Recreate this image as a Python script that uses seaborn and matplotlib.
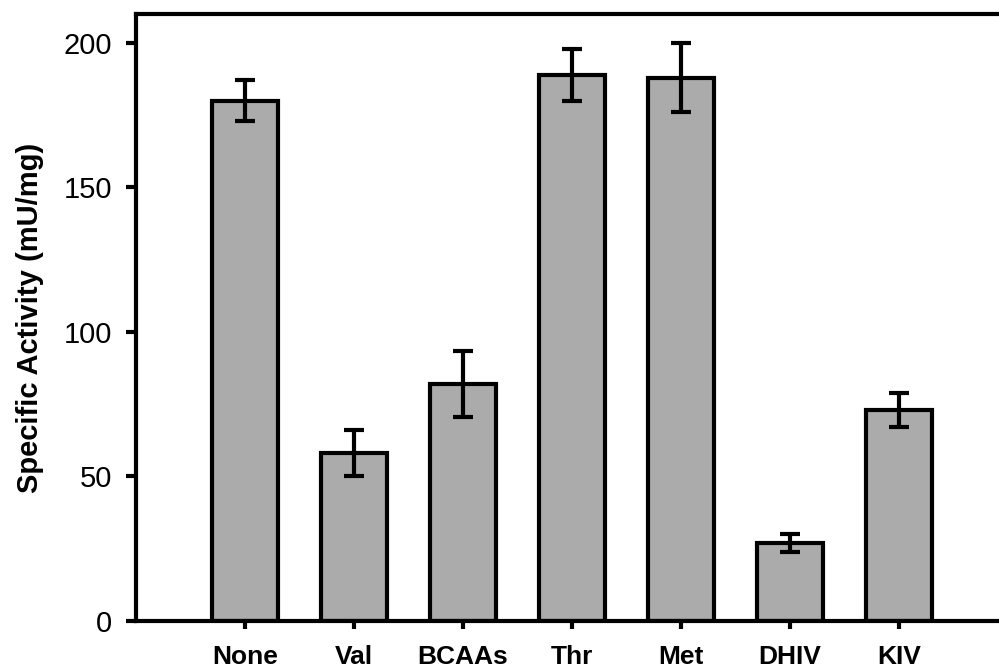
import matplotlib
matplotlib.use("Agg")
import matplotlib.pyplot as plt
import seaborn as sns
import pandas as pd

categories = ["None", "Val", "BCAAs", "Thr", "Met", "DHIV", "KIV"]
activity = [180, 58, 82, 189, 188, 27, 73]
errors = [7, 8, 11.5, 9, 12, 3, 6]
y_ticks = [0, 50, 100, 150, 200]

sns.set_theme(style="white")
plt.rcParams["font.family"] = ["Liberation Sans", "DejaVu Sans"]
plt.rcParams["text.color"] = "black"
plt.rcParams["axes.labelcolor"] = "black"
plt.rcParams["xtick.color"] = "black"
plt.rcParams["ytick.color"] = "black"

df = pd.DataFrame({"cond": categories, "act": activity})

fig = plt.figure(figsize=(9.99, 6.72), dpi=100)
ax = fig.add_axes([0.1361, 0.0759, 0.873, 0.9033])

sns.barplot(data=df, x="cond", y="act", order=categories, color="#ababab",
            saturation=1, width=0.6, edgecolor="black", linewidth=3,
            errorbar=None, ax=ax)
ax.errorbar(range(len(categories)), activity, yerr=errors, fmt="none",
            ecolor="black", elinewidth=3, capsize=7, capthick=3, zorder=5)

ax.set_xlim(-1, 7)
ax.set_ylim(0, 210)
ax.set_yticks(y_ticks)
ax.set_yticklabels([str(t) for t in y_ticks], fontsize=21)
ax.set_xticks(range(len(categories)))
ax.set_xticklabels(categories, fontsize=19, fontweight="bold")
ax.set_xlabel("")
ax.set_ylabel("Specific Activity (mU/mg)", fontsize=21, fontweight="bold", labelpad=14)

for s in ax.spines.values():
    s.set_visible(True)
    s.set_linewidth(3)
    s.set_color("black")

ax.tick_params(axis="y", direction="out", length=7, width=3, pad=10, left=True,
               colors="black")
ax.tick_params(axis="x", direction="out", length=6, width=3, pad=11, bottom=True,
               colors="black")

fig.savefig("out.png", dpi=100)
